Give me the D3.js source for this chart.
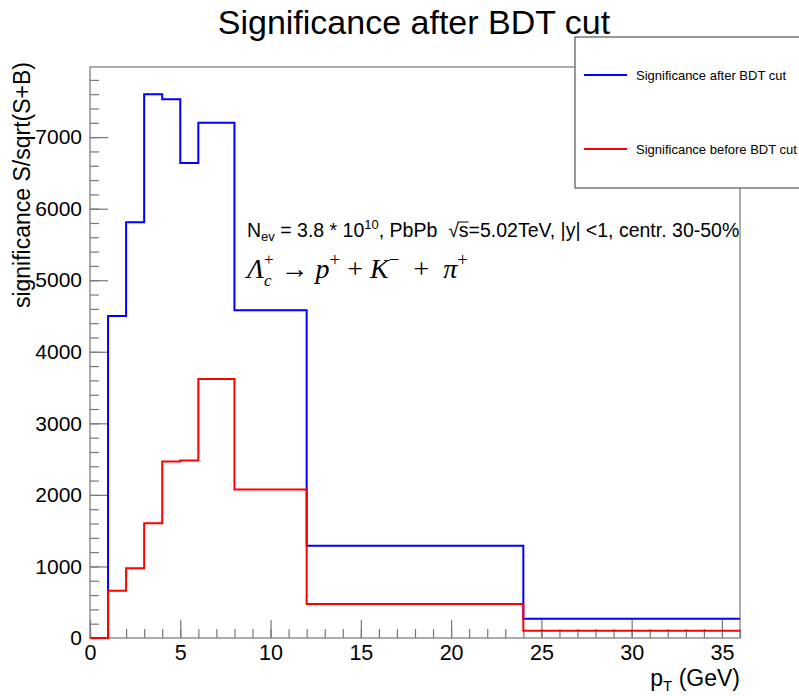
<!DOCTYPE html>
<html>
<head>
<meta charset="utf-8">
<script src="https://cdn.jsdelivr.net/npm/d3@7"></script>
<style>
  html, body { margin: 0; padding: 0; background: #fff; }
  svg { display: block; font-family: "Liberation Sans", Arial, sans-serif; }
  svg text { white-space: pre; }
</style>
</head>
<body>
<svg id="chart" width="799" height="696"></svg>
<script>
// Bin edges in pT (GeV) and per-bin significance S/sqrt(S+B)
const binEdges = [0, 1, 2, 3, 4, 5, 6, 8, 12, 24, 36];
const sigAfter  = [0, 4500, 5810, 7600, 7530, 6640, 7200, 4580, 1290, 270];
const sigBefore = [0, 660, 975, 1605, 2465, 2480, 3620, 2075, 475, 100];

const seriesNames = ["Significance after BDT cut", "Significance before BDT cut"];
const seriesColors = ["#0000ff", "#ff0000"];
const xTicks = [0, 5, 10, 15, 20, 25, 30, 35];
const yTicks = [0, 1000, 2000, 3000, 4000, 5000, 6000, 7000];

const svg = d3.select("#chart");
const frame = { left: 90, top: 67, right: 740, bottom: 638 };
const axisColor = "#777";

const yMax = 1.05 * d3.max(sigAfter);
const x = d3.scaleLinear().domain([0, 36]).range([frame.left, frame.right]);
const y = d3.scaleLinear().domain([0, yMax]).range([frame.bottom, frame.top]);

// Title
svg.append("text")
  .attr("x", 414).attr("y", 34)
  .attr("text-anchor", "middle")
  .style("font-size", "34px")
  .text("Significance after BDT cut");

// Frame
svg.append("rect")
  .attr("x", frame.left).attr("y", frame.top)
  .attr("width", frame.right - frame.left).attr("height", frame.bottom - frame.top)
  .attr("fill", "none").attr("stroke", axisColor).attr("stroke-width", 1.2);

// Minor ticks
const yMinor = d3.range(0, yMax, 200);
const xMinor = d3.range(0, 36.01, 1);

function styleAxis(g) {
  g.select(".domain").remove();
  g.selectAll(".tick line").attr("stroke", axisColor).attr("stroke-width", 1.2);
  g.selectAll(".tick text").attr("fill", "#000")
    .style("font-family", "'Liberation Sans', Arial, sans-serif")
    .style("font-size", "21px");
}

svg.append("g").attr("transform", `translate(${frame.left},0)`)
  .call(d3.axisLeft(y).tickValues(yMinor).tickSize(-9).tickFormat(""))
  .call(styleAxis);
svg.append("g").attr("transform", `translate(${frame.left},0)`)
  .call(d3.axisLeft(y).tickValues(yTicks).tickSize(-18).tickPadding(8).tickFormat(d3.format("d")))
  .call(styleAxis);
svg.append("g").attr("transform", `translate(0,${frame.bottom})`)
  .call(d3.axisBottom(x).tickValues(xMinor).tickSize(-9).tickFormat(""))
  .call(styleAxis);
svg.append("g").attr("transform", `translate(0,${frame.bottom})`)
  .call(d3.axisBottom(x).tickValues(xTicks).tickSize(-18).tickPadding(7).tickFormat(d3.format("d")))
  .call(styleAxis)
  .call(g => g.selectAll(".tick text").style("font-size", "21.5px"));

// Axis titles
svg.append("text")
  .attr("transform", `translate(30,${frame.top - 5}) rotate(-90)`)
  .attr("text-anchor", "end")
  .style("font-size", "23px")
  .text("significance S/sqrt(S+B)");

const xt = svg.append("text")
  .attr("x", frame.right).attr("y", 686)
  .attr("text-anchor", "end")
  .style("font-size", "23px");
xt.append("tspan").text("p");
xt.append("tspan").attr("dy", 5).style("font-size", "15px").text("T");
xt.append("tspan").attr("dy", -5).text(" (GeV)");

// Step histograms
function histPoints(vals) {
  const pts = vals.map((v, i) => [binEdges[i], v]);
  pts.push([binEdges[binEdges.length - 1], vals[vals.length - 1]]);
  return pts;
}
const stepLine = d3.line()
  .x(d => x(d[0])).y(d => y(d[1]))
  .curve(d3.curveStepAfter);

[sigAfter, sigBefore].forEach((vals, i) => {
  svg.append("path")
    .datum(histPoints(vals))
    .attr("d", stepLine)
    .attr("fill", "none")
    .attr("stroke", seriesColors[i])
    .attr("stroke-width", 2);
});

// Sequential text runs (for sub/superscripts and stacked indices)
function runs(parent, x0, y0, items, base) {
  let cx = x0, stackX = null, stackW = 0;
  items.forEach(it => {
    const t = parent.append("text")
      .attr("x", cx).attr("y", y0 + (it.dy || 0))
      .style("font-family", it.family || base.family)
      .style("font-size", (it.size || base.size) + "px")
      .style("font-style", it.italic ? "italic" : "normal")
      .text(it.text);
    const w = t.node().getComputedTextLength();
    if (it.overline) {
      parent.append("line")
        .attr("x1", cx - 1).attr("x2", cx + w)
        .attr("y1", y0 + it.overline).attr("y2", y0 + it.overline)
        .attr("stroke", "#000").attr("stroke-width", 1);
    }
    if (it.stack) { stackX = cx; stackW = w; }
    else if (stackX !== null) { cx = stackX + Math.max(stackW, w); stackX = null; }
    else cx += w;
  });
}

const ann = svg.append("g");
const sansBase = { family: "'Liberation Sans', Arial, sans-serif", size: 19.5 };
runs(ann, 247, 237, [
  { text: "N" },
  { text: "ev", size: 13, dy: 4 },
  { text: " = 3.8 * 10" },
  { text: "10", size: 13, dy: -8 },
  { text: ", PbPb  " },
  { text: "\u221A" },
  { text: "s", overline: -15 },
  { text: "=5.02TeV, |y| <1, centr. 30-50%" }
], sansBase);

const serifBase = { family: "'Liberation Serif', 'DejaVu Serif', serif", size: 28 };
runs(ann, 247, 278, [
  { text: "\u039B", italic: true },
  { text: "+", size: 17, dy: -13, stack: true },
  { text: "c", size: 17, dy: 8, italic: true },
  { text: " \u2192 " },
  { text: "p", italic: true },
  { text: "+", size: 19, dy: -12 },
  { text: " + " },
  { text: "K", italic: true },
  { text: "\u2212", size: 19, dy: -12 },
  { text: "  +  " },
  { text: "\u03C0", italic: true },
  { text: "+", size: 19, dy: -12 }
], serifBase);

// Legend
const leg = svg.append("g");
leg.append("rect")
  .attr("x", 575).attr("y", 37).attr("width", 240).attr("height", 151)
  .attr("fill", "#fff").attr("stroke", "#555").attr("stroke-width", 1.2);
[75, 149].forEach((ly, i) => {
  leg.append("line")
    .attr("x1", 584).attr("x2", 627).attr("y1", ly).attr("y2", ly)
    .attr("stroke", seriesColors[i]).attr("stroke-width", 2);
  leg.append("text")
    .attr("x", 636).attr("y", ly + 4.5)
    .style("font-size", "13px")
    .text(seriesNames[i]);
});
</script>
</body>
</html>
